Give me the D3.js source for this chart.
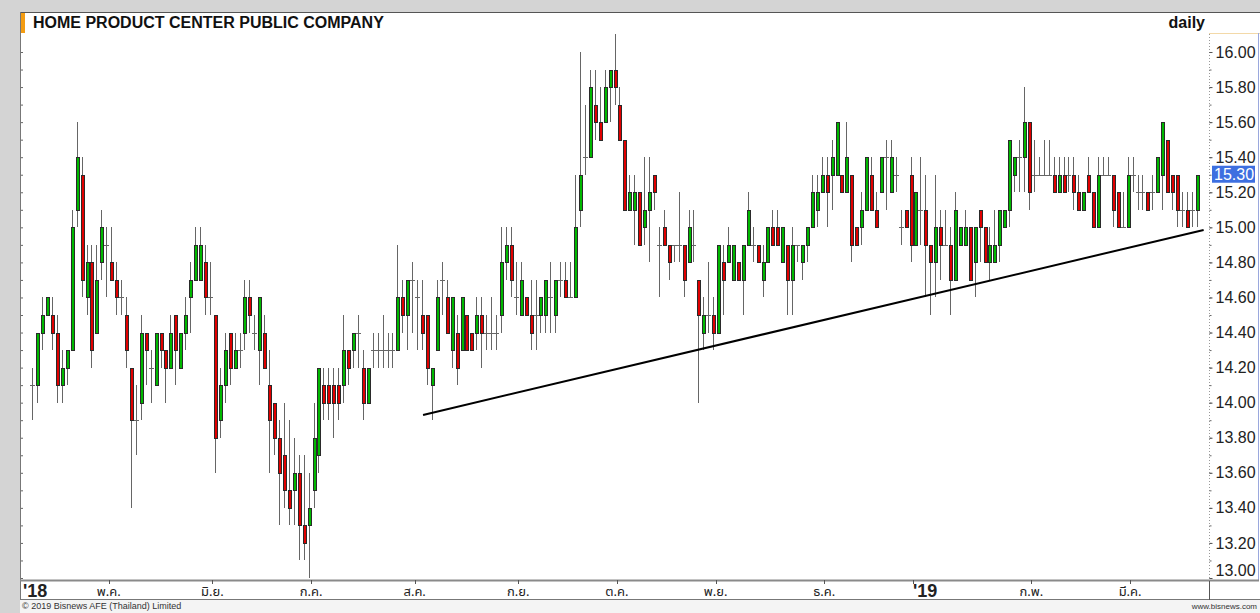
<!DOCTYPE html>
<html>
<head>
<meta charset="utf-8">
<script src="https://cdn.jsdelivr.net/npm/d3@7"></script>
<style>
  body { margin: 0; background: #fff; }
  svg { display: block; }
</style>
</head>
<body>
<svg id="chart" width="1260" height="613"></svg>
<script>
// daily OHLC, one value per session (baht)
let open = [
  14.1,14.1,14.4,14.5,14.5,14.4,14.1,14.2,14.3,15.1,
  15.3,14.6,14.8,14.4,14.8,14.9,14.8,14.7,14.6,14.5,
  14.2,13.9,14.0,14.4,14.2,14.1,14.4,14.3,14.2,14.5,
  14.2,14.4,14.6,14.7,14.7,14.8,14.6,14.5,13.9,14.1,
  14.4,14.2,14.3,14.4,14.6,14.4,14.3,14.4,14.1,14.0,
  13.8,13.7,13.5,13.5,13.6,13.3,13.3,13.5,13.7,14.1,
  14.1,14.1,14.1,14.1,14.3,14.3,14.4,14.2,14.0,14.3,
  14.3,14.3,14.3,14.3,14.3,14.6,14.5,14.7,14.6,14.5,
  14.5,14.1,14.3,14.7,14.6,14.3,14.4,14.3,14.5,14.4,
  14.4,14.5,14.4,14.4,14.4,14.5,14.8,14.9,14.6,14.5,
  14.6,14.5,14.5,14.5,14.5,14.6,14.5,14.7,14.7,14.6,
  14.6,15.1,15.4,15.4,15.7,15.6,15.6,15.8,15.9,15.7,
  15.5,15.1,15.1,15.2,15.0,15.1,15.3,14.9,15.0,14.9,
  14.9,14.9,14.9,14.8,14.9,14.7,14.4,14.5,14.5,14.4,
  14.8,14.8,14.7,14.8,14.7,14.9,14.9,14.9,14.7,14.8,
  15.0,15.0,14.8,14.9,14.7,14.9,14.8,14.9,15.0,15.1,
  15.2,15.3,15.3,15.3,15.3,15.2,15.3,15.0,15.0,15.1,
  15.3,15.1,15.2,15.4,15.2,15.3,15.0,15.1,15.3,14.9,
  15.1,15.1,14.9,14.8,15.0,14.9,14.9,14.7,14.9,14.9,
  15.0,14.8,15.1,15.0,14.8,14.8,14.9,15.0,15.1,15.3,
  15.4,15.4,15.6,15.3,15.3,15.3,15.3,15.3,15.2,15.3,
  15.3,15.3,15.2,15.1,15.3,15.2,15.0,15.3,15.3,15.3,
  15.2,15.0,15.0,15.3,15.2,15.2,15.2,15.2,15.2,15.3,
  15.5,15.3,15.3,15.1,15.1,15.1,15.1
];
let high = [
  14.2,14.4,14.6,14.6,14.6,14.5,14.3,14.3,15.1,15.6,
  15.4,14.9,14.9,14.9,15.1,15.0,15.0,14.8,14.7,14.6,
  14.2,14.1,14.5,14.4,14.3,14.4,14.4,14.3,14.5,14.5,
  14.4,14.6,14.8,15.0,15.0,14.9,14.8,14.5,14.2,14.4,
  14.4,14.4,14.4,14.7,14.7,14.5,14.6,14.5,14.3,14.0,
  13.9,14.0,13.9,13.8,13.7,13.7,13.6,14.0,14.2,14.2,
  14.2,14.2,14.2,14.5,14.3,14.4,14.5,14.3,14.2,14.4,
  14.4,14.5,14.4,14.4,14.9,14.7,14.7,14.8,14.7,14.7,
  14.5,14.2,14.7,14.8,14.7,14.6,14.5,14.6,14.5,14.4,
  14.6,14.6,14.5,14.6,14.5,15.0,15.0,15.0,14.8,14.8,
  14.6,14.7,14.7,14.6,14.7,14.8,14.7,14.8,14.8,14.8,
  15.3,16.0,15.7,15.9,15.9,15.8,15.9,15.9,16.1,15.8,
  15.5,15.3,15.3,15.2,15.4,15.4,15.3,15.0,15.1,14.9,
  14.9,15.2,14.9,15.1,15.1,14.7,14.6,14.8,14.6,14.9,
  14.9,15.0,14.9,14.8,14.9,15.2,15.0,14.9,14.9,15.0,
  15.1,15.1,15.0,14.9,15.0,14.9,14.9,15.0,15.3,15.3,
  15.4,15.4,15.5,15.6,15.3,15.6,15.3,15.0,15.2,15.4,
  15.4,15.2,15.4,15.5,15.5,15.4,15.1,15.1,15.4,15.2,
  15.4,15.3,14.9,15.3,15.1,15.1,15.0,15.2,15.0,15.1,
  15.0,15.0,15.1,15.0,15.0,15.1,15.1,15.1,15.5,15.4,
  15.5,15.8,15.6,15.5,15.4,15.5,15.5,15.4,15.4,15.4,
  15.4,15.4,15.3,15.2,15.4,15.2,15.4,15.4,15.4,15.3,
  15.2,15.2,15.4,15.4,15.3,15.3,15.2,15.3,15.4,15.6,
  15.5,15.3,15.3,15.2,15.2,15.2,15.3
];
let low = [
  13.9,14.0,14.3,14.5,14.3,14.0,14.0,14.1,14.3,15.0,
  14.6,14.5,14.2,14.4,14.7,14.6,14.7,14.5,14.5,14.2,
  13.4,13.7,13.9,14.1,14.0,14.1,14.2,14.0,14.2,14.1,
  14.2,14.3,14.4,14.7,14.7,14.5,14.5,13.6,13.8,14.0,
  14.1,14.2,14.2,14.3,14.4,14.3,14.1,14.2,13.6,13.7,
  13.3,13.4,13.3,13.3,13.1,13.1,13.0,13.4,13.6,13.9,
  13.9,13.8,13.9,14.0,14.1,14.2,14.2,13.9,14.0,14.2,
  14.2,14.2,14.2,14.2,14.3,14.4,14.3,14.4,14.3,14.3,
  14.1,13.9,14.3,14.5,14.4,14.2,14.1,14.3,14.3,14.3,
  14.3,14.2,14.3,14.3,14.3,14.4,14.7,14.6,14.5,14.5,
  14.5,14.3,14.3,14.4,14.4,14.4,14.4,14.6,14.6,14.6,
  14.6,15.0,15.3,15.4,15.5,15.5,15.6,15.6,15.7,15.5,
  15.1,15.1,14.9,14.9,14.9,14.8,15.1,14.6,14.9,14.7,
  14.8,14.8,14.6,14.8,14.8,14.0,14.3,14.4,14.3,14.4,
  14.5,14.8,14.7,14.7,14.5,14.9,14.8,14.8,14.6,14.8,
  14.9,14.9,14.8,14.5,14.5,14.8,14.7,14.8,15.0,15.0,
  15.2,15.0,15.1,15.3,15.2,15.2,14.8,14.9,14.9,15.1,
  15.1,15.0,15.2,15.1,15.2,15.2,14.9,15.0,14.8,14.9,
  14.9,14.6,14.5,14.6,14.7,14.9,14.5,14.7,14.9,14.9,
  14.7,14.6,14.8,14.8,14.7,14.8,14.8,15.0,15.0,15.2,
  15.2,15.2,15.1,15.2,15.3,15.3,15.3,15.2,15.2,15.2,
  15.2,15.1,15.1,15.1,15.2,15.0,15.0,15.3,15.3,15.0,
  15.0,15.0,15.0,15.2,15.1,15.1,15.1,15.1,15.2,15.1,
  15.2,15.1,15.0,15.0,15.0,15.0,15.0
];
let close = [
  14.1,14.4,14.5,14.6,14.4,14.1,14.2,14.3,15.0,15.4,
  14.7,14.8,14.3,14.7,15.0,14.9,14.7,14.6,14.6,14.3,
  13.9,13.9,14.4,14.3,14.2,14.4,14.3,14.2,14.4,14.3,
  14.4,14.5,14.7,14.9,14.9,14.6,14.6,13.8,14.1,14.3,
  14.2,14.3,14.3,14.6,14.5,14.4,14.6,14.2,13.9,13.8,
  13.6,13.5,13.4,13.6,13.3,13.2,13.4,13.8,14.2,14.0,
  14.0,14.0,14.0,14.3,14.2,14.4,14.4,14.0,14.2,14.3,
  14.3,14.3,14.3,14.3,14.6,14.5,14.7,14.7,14.6,14.4,
  14.2,14.2,14.6,14.7,14.4,14.6,14.2,14.6,14.3,14.3,
  14.5,14.4,14.4,14.4,14.4,14.8,14.9,14.7,14.6,14.7,
  14.5,14.4,14.5,14.6,14.7,14.6,14.7,14.7,14.6,14.6,
  15.0,15.3,15.4,15.8,15.6,15.5,15.8,15.9,15.8,15.5,
  15.1,15.2,15.2,14.9,15.1,15.2,15.2,14.9,14.9,14.8,
  14.9,14.9,14.7,15.0,14.9,14.5,14.5,14.5,14.4,14.9,
  14.7,14.9,14.9,14.7,14.9,15.1,14.9,14.8,14.8,15.0,
  14.9,14.9,15.0,14.7,14.9,14.9,14.9,15.0,15.2,15.2,
  15.3,15.2,15.4,15.6,15.2,15.4,14.9,14.9,15.1,15.4,
  15.1,15.0,15.4,15.4,15.4,15.3,15.0,15.0,14.9,15.2,
  15.1,14.9,14.8,15.0,14.9,14.9,14.7,15.1,15.0,15.0,
  14.7,15.0,15.0,14.8,14.9,14.9,15.1,15.1,15.5,15.4,
  15.4,15.6,15.2,15.3,15.3,15.3,15.3,15.2,15.3,15.2,
  15.3,15.2,15.1,15.2,15.2,15.0,15.3,15.3,15.3,15.1,
  15.0,15.0,15.3,15.3,15.2,15.2,15.1,15.2,15.4,15.6,
  15.2,15.2,15.1,15.1,15.0,15.1,15.3
];

// x axis: label and the session (1-based) where each month starts
let monthLabels = ["'18", "พ.ค.", "มิ.ย.", "ก.ค.", "ส.ค.", "ก.ย.", "ต.ค.", "พ.ย.", "ธ.ค.", "'19", "ก.พ.", "มี.ค."];
let monthStart = [1, 17, 38, 58, 79, 100, 120, 140, 162, 180, 204, 224];

let priceTicks = [13.0, 13.2, 13.4, 13.6, 13.8, 14.0, 14.2, 14.4, 14.6, 14.8, 15.0, 15.2, 15.4, 15.6, 15.8, 16.0];
let lastPrice = 15.30;

// hand drawn support line: [session, price]
let trendStart = [80.2, 13.93];
let trendEnd = [238.4, 14.985];

let title = 'HOME PRODUCT CENTER PUBLIC COMPANY';

let data = open.map((o, i) => ({ i: i + 1, o: o, h: high[i], l: low[i], c: close[i] }));

let svg = d3.select('#chart');

let plot = { left: 21, right: 1209, top: 34, bottom: 580 };

let x = d3.scaleLinear()
  .domain([0.5, data.length + 0.5])
  .range([29.8, 1199.2]);

let y = d3.scaleLinear()
  .domain([13, 16])
  .range([578, 52]);

let sans = 'Arial, "Liberation Sans", sans-serif';

// frame
svg.append('rect').attr('width', 1260).attr('height', 613).attr('fill', '#fff');
svg.append('rect').attr('width', 20).attr('height', 613).attr('fill', '#d4d4d4');
svg.append('rect').attr('width', 1260).attr('height', 12).attr('fill', '#d4d4d4');
svg.append('rect').attr('x', 20).attr('y', 600).attr('width', 1240).attr('height', 13).attr('fill', '#f4f4f4');

svg.append('line')
  .attr('x1', 20).attr('x2', 1260).attr('y1', 12.5).attr('y2', 12.5)
  .attr('stroke', '#555');
svg.append('line')
  .attr('x1', 20.5).attr('x2', 20.5).attr('y1', 12).attr('y2', 600)
  .attr('stroke', '#777');
svg.append('rect')
  .attr('x', 21).attr('y', 13).attr('width', 4).attr('height', 20)
  .attr('fill', '#f39c12');

svg.append('text')
  .attr('x', 33).attr('y', 28)
  .attr('font-family', sans)
  .attr('font-weight', 'bold')
  .attr('font-size', 16)
  .attr('fill', '#111')
  .text(title);

svg.append('text')
  .attr('x', 1205).attr('y', 28)
  .attr('text-anchor', 'end')
  .attr('font-family', sans)
  .attr('font-weight', 'bold')
  .attr('font-size', 16)
  .attr('fill', '#111')
  .text('daily');

// left edge minor ticks
svg.append('g')
  .attr('transform', `translate(${plot.left},0)`)
  .call(d3.axisRight(y).tickValues(d3.range(13, 16.05, 0.1)).tickSize(2).tickFormat(''))
  .call(g => g.select('.domain').remove())
  .selectAll('line').attr('stroke', '#666');

// right price axis
svg.append('line')
  .attr('x1', plot.right).attr('x2', 1260).attr('y1', 33.5).attr('y2', 33.5)
  .attr('stroke', '#f3d9a8');
svg.append('line')
  .attr('x1', 1258.5).attr('x2', 1258.5).attr('y1', 33).attr('y2', 581)
  .attr('stroke', '#9aa8de');
svg.append('line')
  .attr('x1', plot.right + 0.5).attr('x2', plot.right + 0.5).attr('y1', 34).attr('y2', 580)
  .attr('stroke', '#999')
  .attr('stroke-dasharray', '1,2');

svg.append('g')
  .attr('transform', `translate(${plot.right + 0.5},0)`)
  .call(d3.axisRight(y).tickValues(d3.range(13, 16.05, 0.1)).tickSize(2).tickFormat(''))
  .call(g => g.select('.domain').remove())
  .selectAll('line').attr('stroke', '#666');

svg.append('g')
  .attr('transform', `translate(${plot.right + 0.5},0)`)
  .call(d3.axisRight(y).tickValues(priceTicks).tickSize(3).tickPadding(3).tickFormat(d3.format('.2f')))
  .call(g => g.select('.domain').remove())
  .call(g => g.selectAll('line').attr('stroke', '#555'))
  .call(g => g.selectAll('text')
    .attr('font-family', sans)
    .attr('font-size', 16)
    .attr('fill', '#222')
    .attr('dy', d => d === 13 ? '-0.15em' : '0.32em'));

// last price marker
svg.append('rect')
  .attr('x', 1212).attr('y', y(lastPrice) - 9)
  .attr('width', 43).attr('height', 17)
  .attr('fill', '#3d6fe0');
svg.append('text')
  .attr('x', 1214).attr('y', y(lastPrice))
  .attr('dy', '0.34em')
  .attr('font-family', sans)
  .attr('font-size', 16)
  .attr('fill', '#fff')
  .text(d3.format('.2f')(lastPrice));

// x axis strip
svg.append('line')
  .attr('x1', 20).attr('x2', 1259).attr('y1', 580.5).attr('y2', 580.5)
  .attr('stroke', '#8a8a8a').attr('stroke-width', 2);
svg.append('line')
  .attr('x1', 20).attr('x2', 1260).attr('y1', 599.5).attr('y2', 599.5)
  .attr('stroke', '#777');
svg.append('line')
  .attr('x1', plot.right + 0.5).attr('x2', plot.right + 0.5).attr('y1', 581).attr('y2', 600)
  .attr('stroke', '#555');

let monthX = s => x(s - 0.5);
let isYear = d => d[0] === "'";

svg.append('g')
  .selectAll('line')
  .data(monthStart.slice(1))
  .enter()
  .append('line')
  .attr('x1', d => Math.round(monthX(d)) + 0.5)
  .attr('x2', d => Math.round(monthX(d)) + 0.5)
  .attr('y1', 580).attr('y2', 584)
  .attr('stroke', '#555');

svg.append('g')
  .selectAll('text')
  .data(monthLabels)
  .enter()
  .append('text')
  .attr('x', (d, k) => k === 0 ? 23 : monthX(monthStart[k]))
  .attr('y', d => isYear(d) ? 597 : 596)
  .attr('text-anchor', d => isYear(d) ? 'start' : 'middle')
  .attr('font-family', d => isYear(d) ? sans : 'Tahoma, "Noto Sans Thai", "Loma", "Garuda", sans-serif')
  .attr('font-weight', d => isYear(d) ? 'bold' : 'normal')
  .attr('font-size', d => isYear(d) ? 18 : 13)
  .attr('fill', '#222')
  .text(d => d);

// footer
svg.append('text')
  .attr('x', 22).attr('y', 609)
  .attr('font-family', sans)
  .attr('font-size', 9)
  .attr('fill', '#333')
  .text('© 2019 Bisnews AFE (Thailand) Limited');
svg.append('text')
  .attr('x', 1257).attr('y', 609)
  .attr('text-anchor', 'end')
  .attr('font-family', sans)
  .attr('font-size', 8)
  .attr('fill', '#333')
  .text('www.bisnews.com');

// candles
let px = d => Math.round(x(d.i));

let candles = svg.append('g').attr('class', 'candles');

candles.selectAll('.wick')
  .data(data)
  .enter()
  .append('line')
  .attr('class', 'wick')
  .attr('x1', d => px(d) + 0.5).attr('x2', d => px(d) + 0.5)
  .attr('y1', d => Math.round(y(d.h)))
  .attr('y2', d => Math.round(y(d.l)))
  .attr('stroke', '#666')
  .attr('stroke-width', 1);

candles.selectAll('.doji')
  .data(data.filter(d => d.o === d.c))
  .enter()
  .append('line')
  .attr('class', 'doji')
  .attr('x1', d => px(d) - 2).attr('x2', d => px(d) + 3)
  .attr('y1', d => Math.round(y(d.o)) + 0.5)
  .attr('y2', d => Math.round(y(d.o)) + 0.5)
  .attr('stroke', '#666');

candles.selectAll('.body')
  .data(data.filter(d => d.o !== d.c))
  .enter()
  .append('rect')
  .attr('class', 'body')
  .attr('x', d => px(d) - 0.5)
  .attr('y', d => Math.round(y(Math.max(d.o, d.c))) + 0.5)
  .attr('width', 3)
  .attr('height', d => Math.round(y(Math.min(d.o, d.c))) - Math.round(y(Math.max(d.o, d.c))))
  .attr('fill', d => d.c > d.o ? '#00b800' : '#e00000')
  .attr('stroke', '#2a2a2a')
  .attr('stroke-width', 1)
  .attr('shape-rendering', 'crispEdges');

// support line
svg.append('line')
  .attr('x1', x(trendStart[0])).attr('y1', y(trendStart[1]))
  .attr('x2', x(trendEnd[0])).attr('y2', y(trendEnd[1]))
  .attr('stroke', '#000')
  .attr('stroke-width', 2);
</script>
</body>
</html>
